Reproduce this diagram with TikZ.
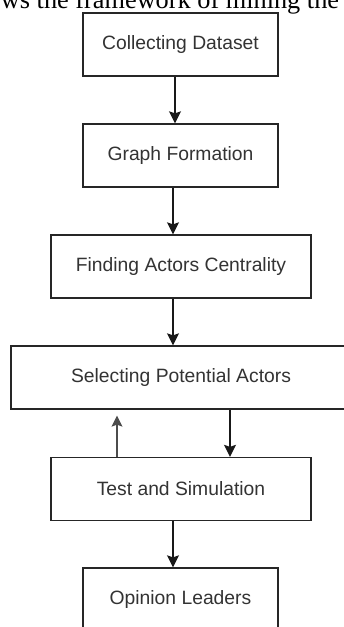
\documentclass[tikz,border=0pt]{standalone}
\usepackage{fontspec}
\setmainfont{Liberation Sans}
\newfontfamily\pagefont{Liberation Serif}
\usepackage{tikz}
\usetikzlibrary{arrows.meta}
\tikzset{every picture/.style={line width=1.3pt}}
\tikzset{
  stage/.style={draw=black!85, rectangle, minimum height=63pt, inner sep=0pt,
    text=black!80, font=\fontsize{19.3}{22}\selectfont},
  arr/.style={-{Stealth[length=12pt,width=12pt,inset=2pt]}, draw=black!90},
  backarr/.style={-{Stealth[length=11pt,width=11pt,inset=2pt]}, draw=black!70, line width=1.1pt}
}

\begin{document}
\begin{tikzpicture}[x=1pt,y=-1pt]
\useasboundingbox (0,0) rectangle (344,627);
\clip (0,0) rectangle (344,627);
\fill[white] (0,0) rectangle (344,627);
% running text of the page above the figure
\node[anchor=base, inner sep=0pt, font=\pagefont\fontsize{26.3}{30}\selectfont] (pagetext) at (170,8.5) {ws the framework of mining the};
%
\node[stage, minimum width=195pt] (collect) at (180.5,44.5) {Collecting Dataset};
\node[stage, minimum width=195pt] (graph) at (180.5,155.5) {Graph Formation};
\node[stage, minimum width=260pt] (central) at (181,266.5) {Finding Actors Centrality};
\node[stage, minimum width=340pt] (select) at (181,377.5) {Selecting Potential Actors};
\node[stage, minimum width=260pt] (test) at (181,489) {Test and Simulation};
\node[stage, minimum width=195pt] (leader) at (180.5,599.5) {Opinion Leaders};
%
\draw[arr] ([xshift=-5.5pt]collect.south) -- ([xshift=-5.5pt]graph.north);
\draw[arr] ([xshift=-7.5pt]graph.south) -- ([xshift=-8pt]central.north);
\draw[arr] ([xshift=-8pt]central.south) -- ([xshift=-8pt]select.north);
\draw[arr] ([xshift=49pt]select.south) -- ([xshift=49pt]test.north);
\draw[backarr] ([xshift=-64pt]test.north) -- ([xshift=-64pt,yshift=-6pt]select.south);
\draw[arr] ([xshift=-8pt]test.south) -- ([xshift=-7.5pt]leader.north);
\end{tikzpicture}
\end{document}
